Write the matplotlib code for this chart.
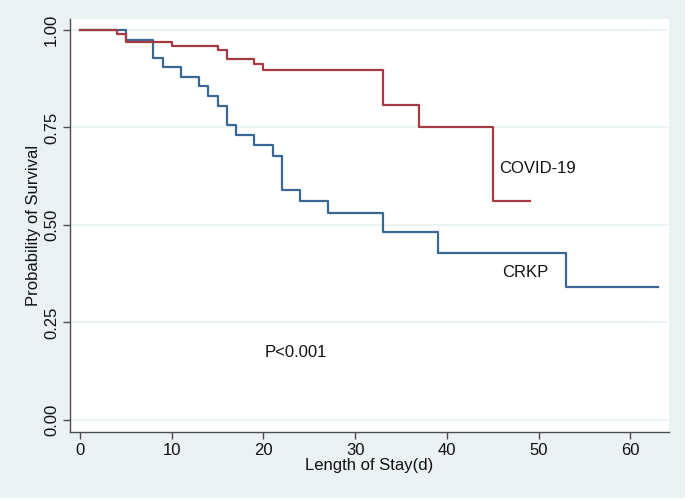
import matplotlib
matplotlib.use("Agg")
import matplotlib.pyplot as plt
from matplotlib.patches import Rectangle

plt.rcParams['font.family'] = ['Liberation Sans', 'DejaVu Sans']

# Kaplan-Meier step data (time, survival)
covid_t = [0, 4, 5, 10, 15, 16, 19, 20, 33, 37, 45, 49]
covid_s = [1.0, 0.990, 0.968, 0.960, 0.949, 0.926, 0.912, 0.897, 0.808, 0.750, 0.561, 0.561]

crkp_t = [0, 5, 8, 9, 11, 13, 14, 15, 16, 17, 19, 21, 22, 24, 27, 33, 39, 53, 63]
crkp_s = [1.0, 0.975, 0.927, 0.904, 0.880, 0.856, 0.830, 0.805, 0.756, 0.730, 0.704,
          0.677, 0.591, 0.561, 0.530, 0.481, 0.427, 0.342, 0.342]

xticks = [0, 10, 20, 30, 40, 50, 60]
yticks = [0.0, 0.25, 0.5, 0.75, 1.0]
ytick_labels = ["0.00", "0.25", "0.50", "0.75", "1.00"]

bg = "#EAF2F3"
fig = plt.figure(figsize=(6.88, 5.01), dpi=100, facecolor="white")
# light background panel (thin white margin at right and bottom edges)
fig.patches.append(Rectangle((0, 3/501), 1 - 3/688, 1 - 3/501, transform=fig.transFigure,
                             facecolor=bg, edgecolor="none", zorder=-10))

ax = fig.add_axes([70/688, 1-432/501, (669-70)/688, (432-19)/501])
ax.set_facecolor("white")

ax.step(crkp_t, crkp_s, where="post", color="#3A6793", lw=1.6)
ax.step(covid_t, covid_s, where="post", color="#A53A43", lw=1.6)

ax.set_xlim(-1.09, 64.2)
ax.set_ylim(-0.0308, 1.0282)

ax.set_yticks(yticks)
ax.set_yticklabels(ytick_labels, rotation=90, va="center")
ax.set_xticks(xticks)
ax.yaxis.grid(True, color=bg, lw=1.2)
ax.set_axisbelow(True)

for s in ["top", "right"]:
    ax.spines[s].set_visible(False)
for s in ["left", "bottom"]:
    ax.spines[s].set_color("#4d4d4d")
    ax.spines[s].set_linewidth(1.0)
ax.tick_params(direction="out", length=5, width=1.0, color="#4d4d4d",
               labelsize=12, labelcolor="#111111", pad=3)

ax.set_xlabel("Length of Stay(d)", fontsize=12, color="#111111", labelpad=0)
ax.set_ylabel("Probability of Survival", fontsize=12, color="#111111", labelpad=2)

ax.text(45.7, 0.646, "COVID-19", fontsize=12, va="center", ha="left", color="#111111")
ax.text(46.0, 0.379, "CRKP", fontsize=12, va="center", ha="left", color="#111111")
ax.text(20.1, 0.172, "P<0.001", fontsize=12, va="center", ha="left", color="#111111")

fig.savefig("out.png", dpi=100, facecolor="white")
